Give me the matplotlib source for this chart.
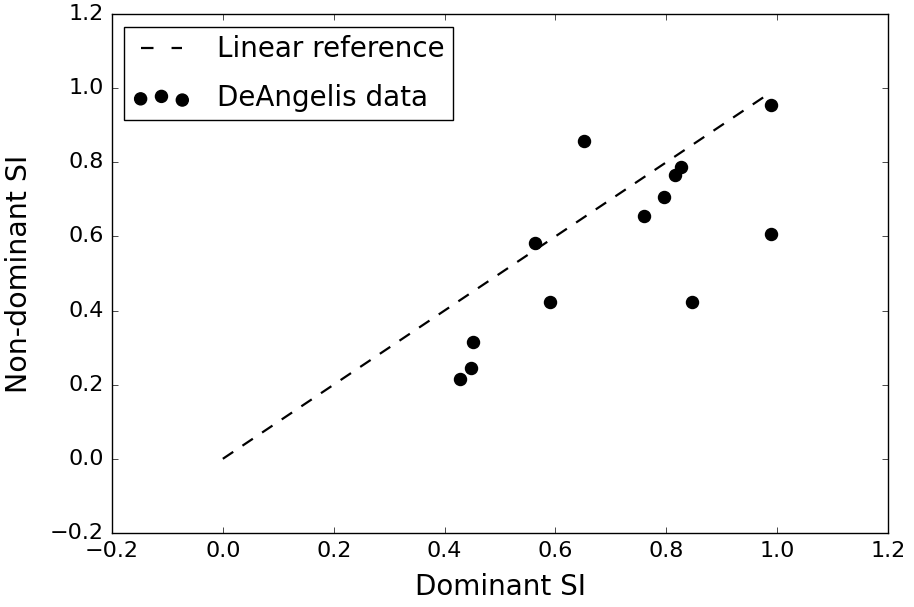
import matplotlib
matplotlib.use('Agg')
import matplotlib.pyplot as plt
import numpy as np

plt.style.use('classic')

# DeAngelis data
dominant_si = [0.428, 0.448, 0.452, 0.563, 0.591, 0.652, 0.760, 0.795, 0.816, 0.827, 0.847, 0.988, 0.988]
nondominant_si = [0.215, 0.245, 0.315, 0.582, 0.423, 0.857, 0.655, 0.706, 0.766, 0.787, 0.423, 0.955, 0.607]

ref_x = [0.0, max(dominant_si)]
ref_y = [0.0, max(dominant_si)]

fig = plt.figure(figsize=(9.14, 6.07), dpi=100, facecolor='white')
ax = fig.add_subplot(111)
fig.subplots_adjust(left=0.1225, right=0.9716, top=0.977, bottom=0.122)

ax.plot(ref_x, ref_y, 'k--', lw=1.6, dashes=(9, 8), label='Linear reference')
ax.scatter(dominant_si, nondominant_si, s=75, c='k', edgecolors='k', label='DeAngelis data')

ax.set_xlim(-0.2, 1.2)
ax.set_ylim(-0.2, 1.2)
ax.set_xticks(np.arange(-0.2, 1.21, 0.2))
ax.set_yticks(np.arange(-0.2, 1.21, 0.2))
ax.tick_params(labelsize=16, pad=6)
ax.set_xlabel('Dominant SI', fontsize=20)
ax.set_ylabel('Non-dominant SI', fontsize=20.5)
ax.xaxis.set_label_coords(0.5, -0.077)
ax.yaxis.set_label_coords(-0.102, 0.5)

leg = ax.legend(loc='upper left', bbox_to_anchor=(12 / 776, 1 - 13 / 519),
                borderaxespad=0, fontsize=20, scatterpoints=3,
                handlelength=2.1, handletextpad=0.94, labelspacing=0.75,
                borderpad=0.3)
# two clean dashes in the legend handle
leg.get_lines()[0].set_dashes((9, 13))

fig.savefig('out.png', dpi=100, facecolor='white')
